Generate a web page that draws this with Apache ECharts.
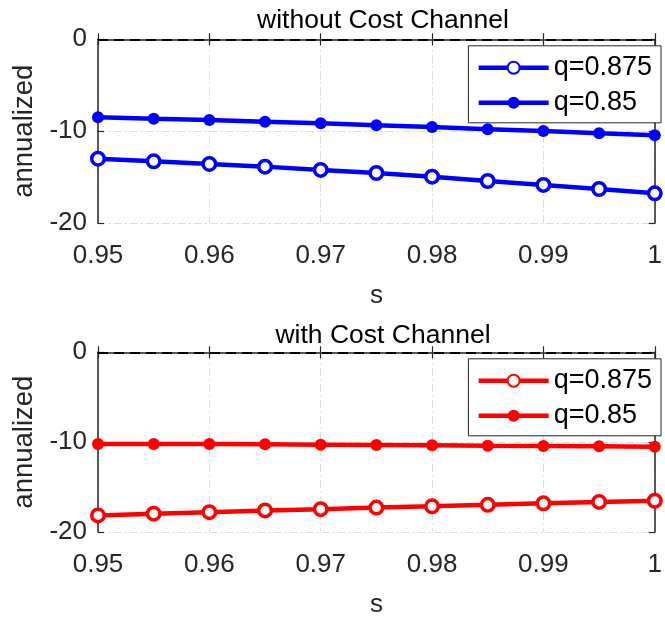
<!DOCTYPE html>
<html>
<head>
<meta charset="utf-8">
<script src="https://cdn.jsdelivr.net/npm/echarts@6/dist/echarts.min.js"></script>
<style>
html,body{margin:0;padding:0;background:#fff;}
#chart{width:665px;height:619px;}
</style>
</head>
<body>
<div id="chart"></div>
<script>
var sValues = [0.95, 0.955, 0.96, 0.965, 0.97, 0.975, 0.98, 0.985, 0.99, 0.995, 1.0];
var noCostQ875 = [-12.98, -13.26, -13.55, -13.84, -14.2, -14.53, -14.93, -15.4, -15.83, -16.27, -16.74];
var noCostQ85 = [-8.48, -8.63, -8.77, -8.95, -9.13, -9.35, -9.53, -9.78, -9.97, -10.22, -10.43];
var withCostQ875 = [-18.15, -17.96, -17.79, -17.6, -17.46, -17.28, -17.14, -16.98, -16.81, -16.65, -16.52];
var withCostQ85 = [-10.2, -10.2, -10.2, -10.24, -10.28, -10.31, -10.35, -10.39, -10.42, -10.46, -10.5];
var titles = ['without Cost Channel', 'with Cost Channel'];
var legendLabels = ['q=0.875', 'q=0.85'];
var xTicks = { min: 0.95, max: 1, interval: 0.01 };
var yTicks = { min: -20, max: 0, interval: 10 };

function pairs(xs, ys) { return xs.map(function (x, i) { return [x, ys[i]]; }); }

var FONT = 'Liberation Sans, Arial, Helvetica, sans-serif';
var AX = '#262626';
var grids = [
  { left: 98, right: 4, top: 39.3, height: 184 },
  { left: 98, right: 4, top: 352.3, height: 183.7 }
];
var titleCenters = [19, 334];

var xAxes = [], yAxes = [];
grids.forEach(function (g, gi) {
  xAxes.push({
    type: 'value', gridIndex: gi, position: 'bottom', min: xTicks.min, max: xTicks.max, interval: xTicks.interval,
    name: 's', nameLocation: 'middle', nameGap: 60,
    nameTextStyle: { fontFamily: FONT, fontSize: 26, color: AX },
    axisLine: { show: true, lineStyle: { color: AX, width: 1.5 } },
    axisTick: { show: true, inside: true, length: 6, lineStyle: { color: AX, width: 1.2 } },
    axisLabel: { fontFamily: FONT, fontSize: 26, color: AX, margin: 20,
      formatter: function (v) { return String(+v.toFixed(2)); } },
    splitLine: { show: true, lineStyle: { color: '#dcdcdc', width: 1, type: [8, 3, 2, 3] } }
  });
  xAxes.push({
    type: 'value', gridIndex: gi, position: 'top', min: xTicks.min, max: xTicks.max, interval: xTicks.interval,
    axisLine: { show: false },
    axisTick: { show: true, inside: true, length: 6, lineStyle: { color: AX, width: 1.2 } },
    axisLabel: { show: false }, splitLine: { show: false }
  });
  yAxes.push({
    type: 'value', gridIndex: gi, position: 'left', min: yTicks.min, max: yTicks.max, interval: yTicks.interval,
    name: 'annualized', nameLocation: 'middle', nameGap: 56, nameRotate: 90,
    nameTextStyle: { fontFamily: FONT, fontSize: 27.5, color: AX },
    axisLine: { show: true, lineStyle: { color: AX, width: 1.5 } },
    axisTick: { show: true, inside: true, length: 6, lineStyle: { color: AX, width: 1.2 } },
    axisLabel: { fontFamily: FONT, fontSize: 26, color: AX, margin: 11 },
    splitLine: { show: true, lineStyle: { color: '#dcdcdc', width: 1, type: [8, 3, 2, 3] } }
  });
  yAxes.push({
    type: 'value', gridIndex: gi, position: 'right', min: yTicks.min, max: yTicks.max, interval: yTicks.interval,
    axisLine: { show: true, lineStyle: { color: AX, width: 1.5 } },
    axisTick: { show: true, inside: true, length: 6, lineStyle: { color: AX, width: 1.2 } },
    axisLabel: { show: false }, splitLine: { show: false }
  });
});

function lineSeries(name, data, gi, color, open, zero) {
  var s = {
    type: 'line', name: name, xAxisIndex: gi * 2, yAxisIndex: gi * 2,
    data: pairs(sValues, data),
    symbol: 'circle', symbolSize: open ? 12.5 : 12,
    lineStyle: { color: color, width: 4.5 },
    itemStyle: open ? { color: '#fff', borderColor: color, borderWidth: 3.5 } : { color: color, borderColor: color, borderWidth: 0 },
    emphasis: { disabled: true },
    animation: false, z: open ? 3 : 4
  };
  if (zero) {
    s.markLine = {
      silent: true, symbol: ['none', 'none'], label: { show: false },
      lineStyle: { color: '#000', type: [10, 6], width: 2 },
      data: [{ yAxis: 0 }], animation: false
    };
  }
  return s;
}

var colors = ['#0000ff', '#ff0000'];
var panelData = [[noCostQ875, noCostQ85], [withCostQ875, withCostQ85]];
var series = [];
var legends = [];
var titleOpts = [];
grids.forEach(function (g, gi) {
  var n1 = 'p' + gi + '|' + legendLabels[0];
  var n2 = 'p' + gi + '|' + legendLabels[1];
  series.push(lineSeries(n1, panelData[gi][0], gi, colors[gi], true, true));
  series.push(lineSeries(n2, panelData[gi][1], gi, colors[gi], false, false));
  legends.push({
    data: [n1, n2], orient: 'vertical', right: 4, top: g.top + 6.5,
    itemWidth: 70, itemHeight: 15, itemGap: 5, padding: [7, 9, 5, 8],
    borderColor: AX, borderWidth: 1, backgroundColor: '#fff',
    selectedMode: false,
    lineStyle: { width: 4.5 },
    formatter: function (n) { return n.split('|')[1]; },
    textStyle: { fontFamily: FONT, fontSize: 27, color: '#000', lineHeight: 30 }
  });
  titleOpts.push({
    text: titles[gi], left: 378, top: titleCenters[gi] - 17, textAlign: 'center',
    textStyle: { fontFamily: FONT, fontSize: 26.5, fontWeight: 'normal', color: '#000', lineHeight: 28 }
  });
});

var chart = echarts.init(document.getElementById('chart'), null, { renderer: 'canvas' });
chart.setOption({
  animation: false,
  backgroundColor: '#fff',
  title: titleOpts,
  grid: grids,
  xAxis: xAxes,
  yAxis: yAxes,
  legend: legends,
  series: series
});
</script>
</body>
</html>
